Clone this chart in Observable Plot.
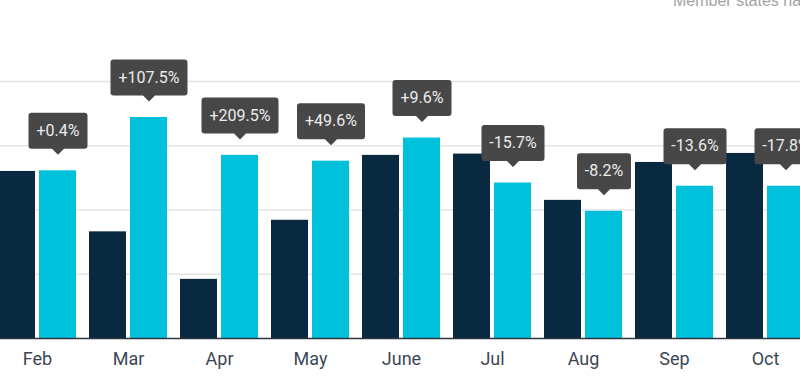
<!DOCTYPE html>
<html>
<head>
<meta charset="utf-8">
<script src="https://cdn.jsdelivr.net/npm/d3@7"></script>
<script src="https://cdn.jsdelivr.net/npm/@observablehq/plot@0.6"></script>
<style>
  html, body { margin: 0; padding: 0; background: #fff; overflow: hidden; width: 800px; height: 380px; }
  #wrap { position: relative; width: 800px; height: 380px; overflow: hidden; }
  #note { position: absolute; left: 673px; top: -8px; font: 16px "Liberation Sans", Arial, sans-serif; color: #a3a3a3; white-space: nowrap; }
</style>
</head>
<body>
<div id="wrap"><div id="note">Member states have</div></div>
<script>
const months = ["Feb", "Mar", "Apr", "May", "June", "Jul", "Aug", "Sep", "Oct"];
const previous = [260, 166, 92, 184, 285, 287, 215, 274, 288];
const current = [261, 344, 285, 276, 312, 242, 198, 237, 237];
const changes = ["+0.4%", "+107.5%", "+209.5%", "+49.6%", "+9.6%", "-15.7%", "-8.2%", "-13.6%", "-17.8%"];
const gridValues = [100, 200, 300, 400];

const data = months.map((m, i) => ({month: m, prev: previous[i], curr: current[i], change: changes[i]}));

const calloutFontSize = 16;
const calloutPadX = 8;
const calloutBoxH = 36;
const calloutPointer = 6;
const calloutFill = "#474747";

// Draws a rounded callout box with a pointer behind each label text.
function calloutRender(index, scales, values, dimensions, context, next) {
  const g = next(index, scales, values, dimensions, context);
  const ctx = document.createElement("canvas").getContext("2d");
  ctx.font = `${calloutFontSize}px Roboto`;
  const texts = Array.from(g.querySelectorAll("text"));
  index.forEach((i, k) => {
    const X = values.x[i], Y = values.y[i];
    const tw = ctx.measureText(data[i].change).width;
    const w = Math.round(tw + 2 * calloutPadX), h = calloutBoxH, r = 3, m = calloutPointer;
    const x0 = X - w / 2, y0 = Y - h / 2, y1 = Y + h / 2, x1 = x0 + w;
    const d = `M${x0 + r},${y0}H${x1 - r}Q${x1},${y0} ${x1},${y0 + r}V${y1 - r}Q${x1},${y1} ${x1 - r},${y1}` +
      `H${X + m}L${X},${y1 + m}L${X - m},${y1}H${x0 + r}Q${x0},${y1} ${x0},${y1 - r}V${y0 + r}Q${x0},${y0} ${x0 + r},${y0}Z`;
    const p = document.createElementNS("http://www.w3.org/2000/svg", "path");
    p.setAttribute("d", d);
    p.setAttribute("fill", calloutFill);
    p.setAttribute("stroke", "none");
    g.insertBefore(p, texts[k]);
  });
  return g;
}

const chart = Plot.plot({
  width: 800,
  height: 380,
  marginTop: 16.75,
  marginBottom: 42,
  marginLeft: 0,
  marginRight: 0,
  style: {fontFamily: "Roboto", fontSize: "18px", color: "#3b4754", background: "transparent"},
  x: {type: "band", domain: months, range: [-8.5, 810.5], paddingInner: 0.143, paddingOuter: 0.0715, align: 0.5, label: null},
  y: {domain: [0, 500], axis: null},
  marks: [
    Plot.ruleY(gridValues, {stroke: "#e4e4e4", strokeWidth: 1.5}),
    Plot.barY(data, {x: "month", y: "prev", fill: "#08293f", insetRight: 41}),
    Plot.barY(data, {x: "month", y: "curr", fill: "#00c1dc", insetLeft: 41}),
    Plot.ruleY([0], {stroke: "#2d3640", strokeWidth: 1.5}),
    Plot.axisX({tickSize: 0, tickPadding: 14, fontSize: 18, fill: "#3b4754"}),
    Plot.text(data, {
      x: "month", y: "curr", text: "change",
      dx: 20.5, dy: -40, lineAnchor: "middle", textAnchor: "middle",
      fill: "#ececec", fontSize: calloutFontSize, fontFamily: "Roboto",
      render: calloutRender
    })
  ]
});
document.getElementById("wrap").prepend(chart);
</script>
</body>
</html>
